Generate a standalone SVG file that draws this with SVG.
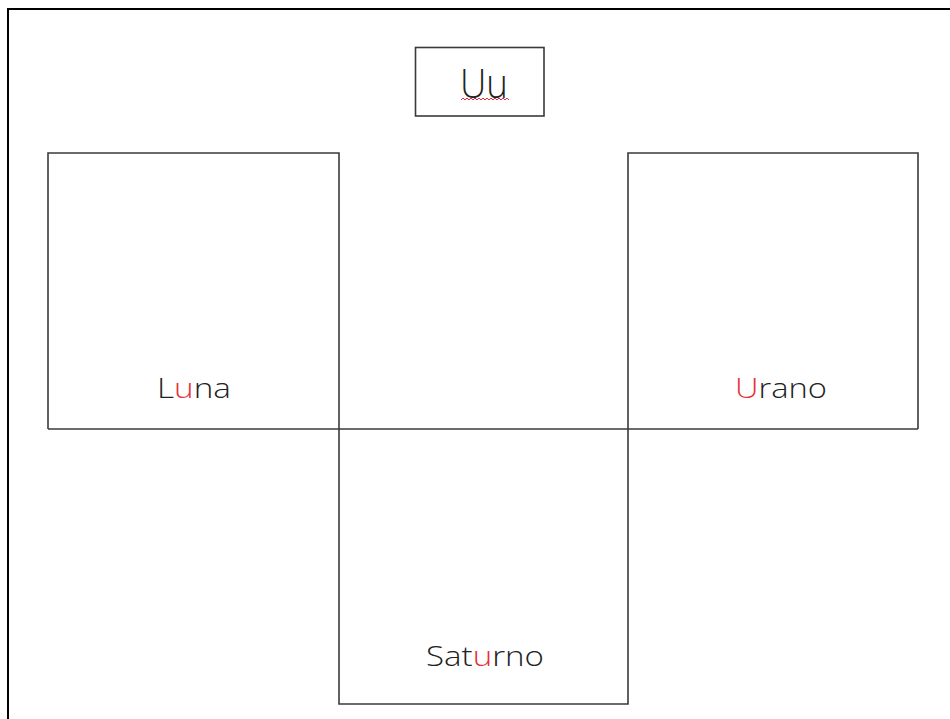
<svg xmlns="http://www.w3.org/2000/svg" width="950" height="719" viewBox="0 0 950 719">
<style>
.box{fill:none;stroke:#3a3a3a;stroke-width:1.6}
.t{font-family:"Open Sans","DejaVu Sans",sans-serif;font-weight:300;fill:#222}
.r{fill:#e8303a}
</style>
<rect width="950" height="719" fill="#fff"/>
<path d="M8,719 V9 H950" fill="none" stroke="#000" stroke-width="2"/>
<g id="title">
<rect x="415.5" y="47.5" width="128.5" height="68.5" class="box"/>
<text x="484" y="98" text-anchor="middle" class="t" font-size="40" textLength="48" lengthAdjust="spacingAndGlyphs">Uu</text>
<polyline points="461,100 463,98 465,100 467,98 469,100 471,98 473,100 475,98 477,100 479,98 481,100 483,98 485,100 487,98 489,100 491,98 493,100 495,98 497,100 499,98 501,100 503,98 505,100 507,98 509,100" fill="none" stroke="#e8303a" stroke-width="1"/>
</g>
<g id="luna">
<path d="M48,429 V153 H339 V429" class="box"/>
<text x="194" y="398" text-anchor="middle" class="t" font-size="28" textLength="74" lengthAdjust="spacingAndGlyphs">L<tspan class="r">u</tspan>na</text>
</g>
<g id="urano">
<path d="M628,429 V153 H918 V429" class="box"/>
<text x="781" y="398" text-anchor="middle" class="t" font-size="28" textLength="92" lengthAdjust="spacingAndGlyphs"><tspan class="r">U</tspan>rano</text>
</g>
<g id="saturno">
<path d="M339,429 V704 H628 V429" class="box"/>
<text x="485" y="666" text-anchor="middle" class="t" font-size="28" textLength="118" lengthAdjust="spacingAndGlyphs">Sat<tspan class="r">u</tspan>rno</text>
</g>
<g id="connectors">
<line x1="48" y1="429" x2="918" y2="429" class="box"/>
</g>
</svg>
